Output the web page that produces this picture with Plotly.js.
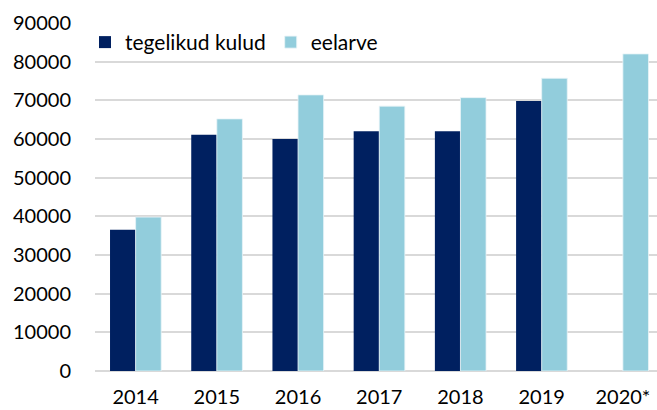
<!DOCTYPE html>
<html>
<head>
<meta charset="utf-8">
<script src="https://cdn.plot.ly/plotly-3.0.1.min.js"></script>
<style>html,body{margin:0;padding:0;background:#fff}#chart{width:657px;height:410px}</style>
</head>
<body>
<div id="chart"></div>
<script>
const categories = ["2014", "2015", "2016", "2017", "2018", "2019", "2020*"];
const tegelikudKulud = [36500, 61100, 60000, 62000, 62000, 69800, null];
const eelarve = [39800, 65200, 71400, 68500, 70700, 75700, 82000];
const yTicks = [0, 10000, 20000, 30000, 40000, 50000, 60000, 70000, 80000, 90000];

const font = {family: "Lato, 'Open Sans', sans-serif", size: 20, color: "#000000"};
const legendFont = {family: "Lato, 'Open Sans', sans-serif", size: 21, color: "#000000"};

const data = [
  {type: "bar", name: "tegelikud kulud", x: categories, y: tegelikudKulud,
   marker: {color: "#002060"}, hoverinfo: "x+y"},
  {type: "bar", name: "eelarve", x: categories, y: eelarve,
   marker: {color: "#92CDDC", line: {color: "#e8f4f8", width: 0.8}}, hoverinfo: "x+y"}
];

const layout = {
  width: 657, height: 410,
  margin: {l: 95, r: 0, t: 23, b: 39, pad: 0},
  paper_bgcolor: "#ffffff", plot_bgcolor: "#ffffff",
  font: font,
  barmode: "group", bargap: 0.37, bargroupgap: 0,
  showlegend: true,
  legend: {orientation: "h", x: -0.0178, xanchor: "left", y: 1.003, yanchor: "top",
           font: legendFont, bgcolor: "rgba(255,255,255,0)", traceorder: "normal",
           itemclick: false, itemdoubleclick: false},
  xaxis: {type: "category", range: [-0.5, 6.42], showgrid: false, zeroline: false,
          showline: false, ticks: "", tickfont: font, ticklabelstandoff: 12,
          fixedrange: true},
  yaxis: {range: [0, 90000], tickvals: yTicks, ticktext: yTicks.map(String),
          showgrid: true, gridcolor: "#d9d9d9", gridwidth: 1.5,
          zeroline: true, zerolinecolor: "#d9d9d9", zerolinewidth: 1.5,
          showline: false, ticks: "", tickfont: font, ticklabelstandoff: 23,
          fixedrange: true}
};

Plotly.newPlot("chart", data, layout, {displayModeBar: false, staticPlot: false});
</script>
</body>
</html>
